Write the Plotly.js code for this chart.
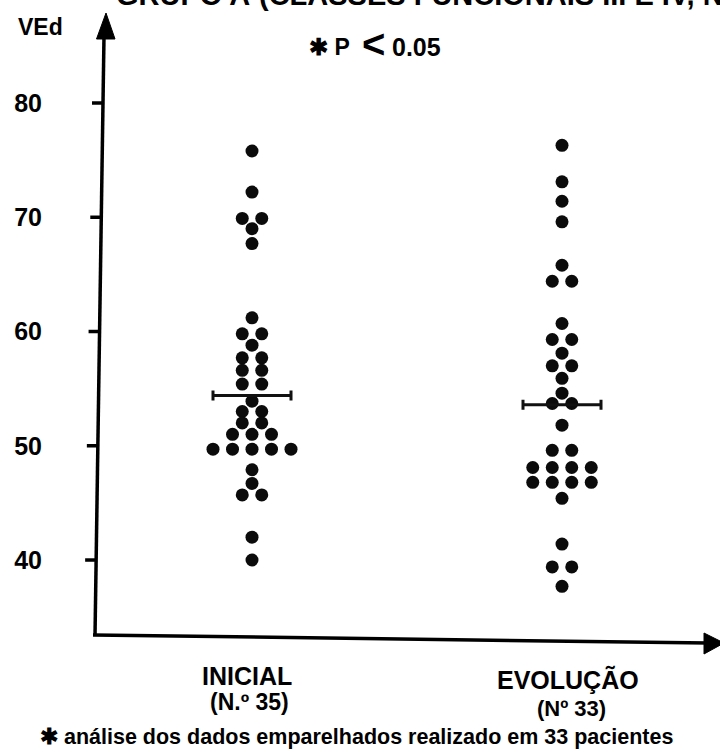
<!DOCTYPE html>
<html>
<head>
<meta charset="utf-8">
<script src="https://cdn.plot.ly/plotly-3.0.1.min.js"></script>
<style>html,body{margin:0;padding:0;background:#fff;}#chart{width:720px;height:752px;}</style>
</head>
<body>
<div id="chart"></div>
<script>
// ---- data ----
const groupNames = ['INICIAL', 'EVOLUÇÃO'];
const groupCounts = ['(N.º 35)', '(Nº 33)'];
const inicialVEd = [75.8, 72.2, 69.9, 69.9, 69.0, 67.7, 61.2, 59.8, 59.8, 58.8,
  57.7, 57.7, 56.6, 56.6, 55.4, 55.4, 53.9, 53.0, 53.0, 52.0, 52.0,
  51.0, 51.0, 51.0, 49.7, 49.7, 49.7, 49.7, 49.7, 47.9, 46.7, 45.7, 45.7, 42.0, 40.0];
const evolucaoVEd = [76.3, 73.1, 71.4, 69.6, 65.8, 64.4, 64.4, 60.7, 59.3, 59.3,
  58.1, 57.0, 57.0, 55.9, 54.6, 53.7, 53.7, 51.8, 49.6, 49.6,
  48.1, 48.1, 48.1, 48.1, 46.8, 46.8, 46.8, 46.8, 45.4, 41.4, 39.4, 39.4, 37.7];
const meanVEd = [54.4, 53.6];
const yTickVals = [40, 50, 60, 70, 80];
const yTitle = 'VEd';
const pNoteParts = ['✱ P', '&lt;', '0.05'];
const footNote = '✱ análise dos dados emparelhados realizado em 33 pacientes';
const topTitleA = 'GRUPO A';
const topTitleB = '(CLASSES FUNCIONAIS III E IV, N.º 35)';

// ---- geometry ----
const W = 720, H = 752;
const M = {l: 95, r: 0, t: 14, b: 116};
const PW = W - M.l - M.r, PH = H - M.t - M.b;
const pxPerUnit = 310;           // px between the two groups
const x0 = 1 - (252 - M.l) / pxPerUnit;
const xRange = [x0, x0 + PW / pxPerUnit];
const yRange = [33.35, 87.79];
const px = v => (v - M.l) / PW;          // pixel x -> paper
const py = v => (H - M.b - v) / PH;      // pixel y -> paper

// spread equal values side by side
function swarm(values, center, stepPx) {
  const step = stepPx / pxPerUnit;
  const counts = {}, seen = {};
  values.forEach(v => counts[v] = (counts[v] || 0) + 1);
  return values.map(v => {
    const k = seen[v] = (seen[v] === undefined ? 0 : seen[v] + 1);
    return center + (k - (counts[v] - 1) / 2) * step;
  });
}

const dotStyle = {size: 13, color: '#0b0b0b'};
const traces = [
  {x: swarm(inicialVEd, 1, 19.5), y: inicialVEd, type: 'scatter', mode: 'markers',
   marker: dotStyle, cliponaxis: false, hoverinfo: 'y'},
  {x: swarm(evolucaoVEd, 2, 19.5), y: evolucaoVEd, type: 'scatter', mode: 'markers',
   marker: dotStyle, cliponaxis: false, hoverinfo: 'y'},
  {x: [1, 2], y: meanVEd, type: 'scatter', mode: 'markers',
   marker: {size: 1, color: 'rgba(0,0,0,0)'},
   error_x: {type: 'constant', value: 39 / pxPerUnit, thickness: 3, width: 5, color: '#111'},
   cliponaxis: false, hoverinfo: 'y'}
];

// tilted hand-drawn axes
const axisX = yv => { // x pixel of y axis at a given data value
  const pyv = H - M.b - (yv - yRange[0]) / (yRange[1] - yRange[0]) * PH;
  return 95 + (636 - pyv) * (9 / 600);
};
const shapes = [
  {type: 'line', xref: 'paper', yref: 'paper', x0: px(95), y0: py(636), x1: px(104), y1: py(36),
   line: {color: '#000', width: 3.5}},
  {type: 'path', xref: 'paper', yref: 'paper',
   path: `M${px(106)},${py(13)} L${px(96.5)},${py(39)} L${px(115)},${py(39)} Z`,
   fillcolor: '#000', line: {color: '#000', width: 1}},
  {type: 'line', xref: 'paper', yref: 'paper', x0: px(93), y0: py(635), x1: px(708), y1: py(643),
   line: {color: '#000', width: 3.5}},
  {type: 'path', xref: 'paper', yref: 'paper',
   path: `M${px(724)},${py(643)} L${px(704)},${py(633)} L${px(704)},${py(654)} Z`,
   fillcolor: '#000', line: {color: '#000', width: 1}}
];
yTickVals.forEach(v => {
  const ax = axisX(v);
  shapes.push({type: 'line', xref: 'paper', yref: 'y', x0: px(ax - 11), x1: px(ax), y0: v, y1: v,
    line: {color: '#000', width: 3.5}});
});

const bold = (size) => ({family: 'Liberation Sans, Arial, sans-serif', size: size, color: '#000', weight: 'bold'});
const ann = (text, x, y, size, extra) => Object.assign({
  text: text, xref: 'paper', yref: 'paper', x: px(x), y: py(y), showarrow: false,
  xanchor: 'center', yanchor: 'middle', font: bold(size)}, extra || {});

const annotations = [
  ann(topTitleA, 252, -5, 29, {xanchor: 'right'}),
  ann(topTitleB, 257, -5, 29, {xanchor: 'left'}),
  ann(yTitle, 40, 27, 23),
  ann(pNoteParts[0], 352, 47, 23, {xanchor: 'right'}),
  ann(pNoteParts[1], 373, 44, 40),
  ann(pNoteParts[2], 390, 47, 25, {xanchor: 'left'}),
  ann(groupNames[0], 247, 676, 25),
  ann(groupCounts[0], 249, 702, 23),
  ann(groupNames[1], 568, 679, 25),
  ann(groupCounts[1], 571, 708, 22),
  ann(footNote, 38, 737, 21.5, {xanchor: 'left'})
];

const layout = {
  width: W, height: H, margin: M, paper_bgcolor: '#fff', plot_bgcolor: '#fff',
  showlegend: false,
  xaxis: {range: xRange, showgrid: false, zeroline: false, showline: false,
          showticklabels: false, ticks: '', fixedrange: true},
  yaxis: {range: yRange, showgrid: false, zeroline: false, showline: false,
          tickvals: yTickVals, ticks: '', ticklabelstandoff: 52,
          tickfont: bold(25), fixedrange: true},
  shapes: shapes, annotations: annotations
};

Plotly.newPlot('chart', traces, layout, {displayModeBar: false, staticPlot: true});
</script>
</body>
</html>
